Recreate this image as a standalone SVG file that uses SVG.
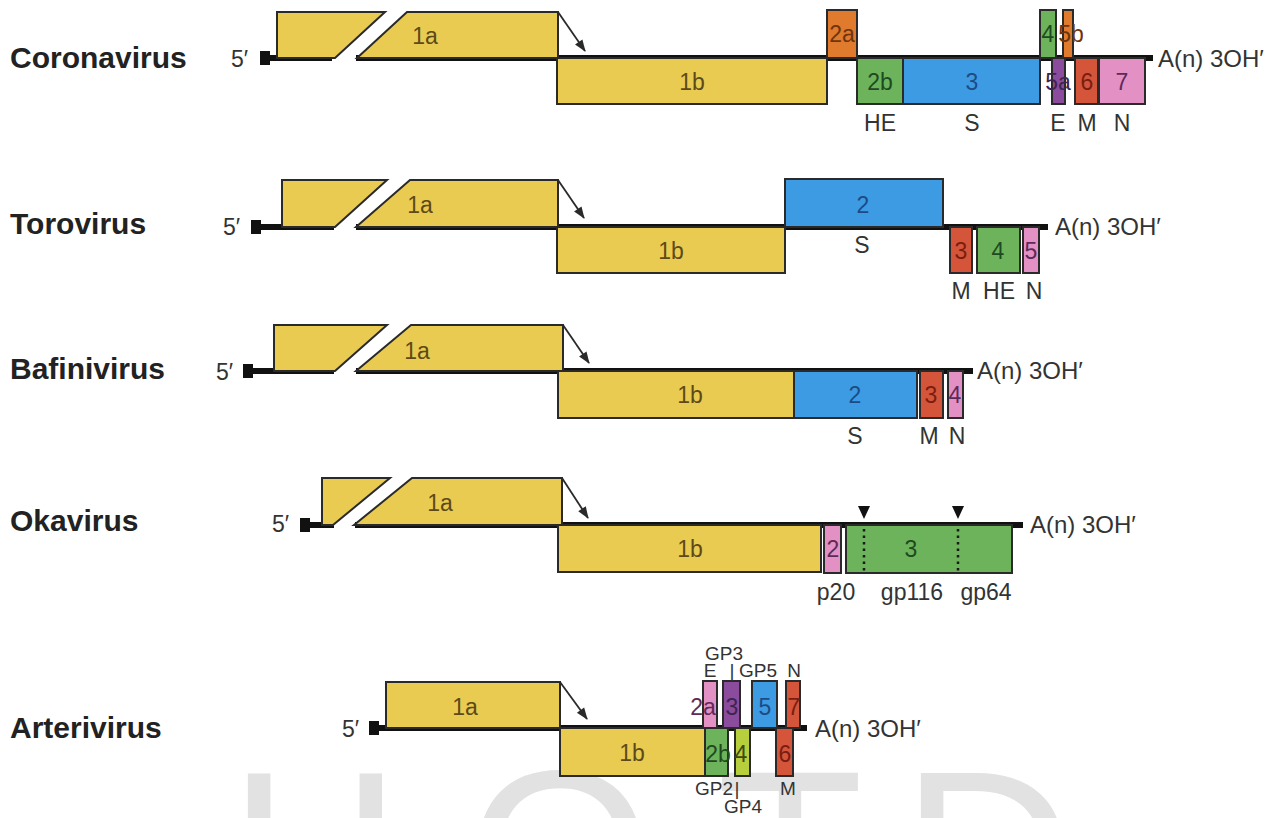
<svg xmlns="http://www.w3.org/2000/svg" width="1282" height="818" viewBox="0 0 1282 818">
<defs>
<marker id="ah" viewBox="0 0 12 10" refX="11" refY="5" markerWidth="13" markerHeight="10" orient="auto" markerUnits="userSpaceOnUse">
<path d="M0,0.5 L12,5 L0,9.5 z" fill="#2a2a2a"/>
</marker>
<style>
text{font-family:"Liberation Sans",Arial,sans-serif;font-size:23px;fill:#333}
.t{text-anchor:middle}
.nm{font-weight:bold;font-size:30px;fill:#222}
.an{font-size:24px}
.sm{font-size:19px}
.b{stroke:#2a2a2a;stroke-width:2}
.y{fill:#EACB52}.yt{fill:#5c4a18}
.or{fill:#E07A2C}.ort{fill:#6e3410}
.gr{fill:#6DB35B}.grt{fill:#1f4a20}
.bl{fill:#3D9BE3}.blt{fill:#1c4b85}
.pu{fill:#8B4C9E}.put{fill:#3e2450}
.rd{fill:#D4553A}.rdt{fill:#7a1d10}
.pk{fill:#E391C4}.pkt{fill:#5e2a5a}
.yg{fill:#B7CF3C}.ygt{fill:#3d4a10}
.ln{stroke:#111;stroke-width:6;fill:none}
.arr{stroke:#2a2a2a;stroke-width:1.8;fill:none}
.wm{fill:#e2e2e2;font-size:240px;text-anchor:middle}
</style>
</defs>
<rect width="1282" height="818" fill="#fff"/>
<g id="watermark">
<text class="wm" x="315" y="938">H</text>
<text class="wm" x="560" y="938">O</text>
<text class="wm" x="790" y="938">T</text>
<text class="wm" x="988" y="938">D</text>
</g>

<g id="genomes">
<path class="ln" d="M265 58 H332 M356 58 H1153"/>
<rect x="260" y="51" width="10" height="14" fill="#111"/>
<path class="ln" d="M257 227 H334 M356 227 H1048"/>
<rect x="251" y="220" width="10" height="14" fill="#111"/>
<path class="ln" d="M248 371 H334 M356 371 H973"/>
<rect x="243" y="364" width="10" height="14" fill="#111"/>
<path class="ln" d="M305 525 H334 M355 525 H1023"/>
<rect x="300" y="518" width="10" height="14" fill="#111"/>
<path class="ln" d="M374 728 H807"/>
<rect x="369" y="721" width="10" height="14" fill="#111"/>
</g>

<!-- Coronavirus -->
<g id="corona">
<text class="nm" x="10" y="68">Coronavirus</text>
<text x="231" y="67">5′</text>
<text class="an" x="1158" y="67">A(n) 3OH′</text>
</g>
<g id="corona-1a"><polygon class="y b" points="277,12 385,12 335,58 277,58"/><polygon class="y b" points="357,58 407,12 558,12 558,58"/><text class="t yt" x="425" y="44">1a</text></g>
<g id="corona-1b"><rect class="y b" x="557" y="58" width="270" height="46"/><text class="t yt" x="692" y="90">1b</text></g>
<g id="corona-2a"><rect class="or b" x="827" y="10" width="30" height="48"/><text class="t ort" x="842" y="42">2a</text></g>
<g id="corona-2b"><rect class="gr b" x="857" y="58" width="46" height="46"/><text class="t grt" x="880" y="90">2b</text><text class="t" x="880" y="131">HE</text></g>
<g id="corona-3"><rect class="bl b" x="903" y="58" width="137" height="46"/><text class="t blt" x="972" y="90">3</text><text class="t" x="972" y="131">S</text></g>
<g id="corona-4"><rect class="gr b" x="1040" y="10" width="16" height="48"/><text class="t grt" x="1048" y="42">4</text></g>
<g id="corona-5b"><rect class="or b" x="1063" y="10" width="10" height="48"/><text class="t ort" x="1071" y="42">5b</text></g>
<g id="corona-5a"><rect class="pu b" x="1052" y="58" width="13" height="46"/><text class="t put" x="1058" y="90">5a</text><text class="t" x="1058" y="131">E</text></g>
<g id="corona-6"><rect class="rd b" x="1075" y="58" width="23" height="46"/><text class="t rdt" x="1087" y="90">6</text><text class="t" x="1087" y="131">M</text></g>
<g id="corona-7"><rect class="pk b" x="1099" y="58" width="46" height="46"/><text class="t pkt" x="1122" y="90">7</text><text class="t" x="1122" y="131">N</text></g>

<!-- Torovirus -->
<g id="toro">
<text class="nm" x="10" y="234">Torovirus</text>
<text x="223" y="235">5′</text>
<text class="an" x="1055" y="235">A(n) 3OH′</text>
</g>
<g id="toro-1a"><polygon class="y b" points="282,180 387,180 335,227 282,227"/><polygon class="y b" points="356,227 410,180 558,180 558,227"/><text class="t yt" x="420" y="213">1a</text></g>
<g id="toro-1b"><rect class="y b" x="557" y="227" width="228" height="46"/><text class="t yt" x="671" y="259">1b</text></g>
<g id="toro-2"><rect class="bl b" x="785" y="179" width="158" height="48"/><text class="t blt" x="863" y="213">2</text><text class="t" x="862" y="253">S</text></g>
<g id="toro-3"><rect class="rd b" x="950" y="227" width="22" height="46"/><text class="t rdt" x="961" y="259">3</text><text class="t" x="961" y="299">M</text></g>
<g id="toro-4"><rect class="gr b" x="977" y="227" width="43" height="46"/><text class="t grt" x="998" y="259">4</text><text class="t" x="999" y="299">HE</text></g>
<g id="toro-5"><rect class="pk b" x="1023" y="227" width="16" height="46"/><text class="t pkt" x="1031" y="259">5</text><text class="t" x="1034" y="299">N</text></g>

<!-- Bafinivirus -->
<g id="bafini">
<text class="nm" x="10" y="379">Bafinivirus</text>
<text x="216" y="380">5′</text>
<text class="an" x="977" y="379">A(n) 3OH′</text>
</g>
<g id="bafini-1a"><polygon class="y b" points="274,325 387,325 335,371 274,371"/><polygon class="y b" points="356,371 411,325 563,325 563,371"/><text class="t yt" x="417" y="359">1a</text></g>
<g id="bafini-1b"><rect class="y b" x="558" y="371" width="236" height="47"/><text class="t yt" x="690" y="403">1b</text></g>
<g id="bafini-2"><rect class="bl b" x="794" y="371" width="123" height="47"/><text class="t blt" x="855" y="403">2</text><text class="t" x="855" y="444">S</text></g>
<g id="bafini-3"><rect class="rd b" x="920" y="371" width="23" height="47"/><text class="t rdt" x="931" y="403">3</text><text class="t" x="929" y="444">M</text></g>
<g id="bafini-4"><rect class="pk b" x="948" y="371" width="15" height="47"/><text class="t pkt" x="955" y="403">4</text><text class="t" x="957" y="444">N</text></g>

<!-- Okavirus -->
<g id="oka">
<text class="nm" x="10" y="531">Okavirus</text>
<text x="272" y="532">5′</text>
<text class="an" x="1030" y="533">A(n) 3OH′</text>
</g>
<g id="oka-1a"><polygon class="y b" points="322,478 390,478 333,525 322,525"/><polygon class="y b" points="354,525 412,478 562,478 562,525"/><text class="t yt" x="440" y="511">1a</text></g>
<g id="oka-1b"><rect class="y b" x="558" y="525" width="263" height="47"/><text class="t yt" x="690" y="557">1b</text></g>
<g id="oka-2"><rect class="pk b" x="824" y="525" width="17" height="48"/><text class="t pkt" x="833" y="557">2</text><text class="t" x="836" y="600">p20</text></g>
<g id="oka-3"><rect class="gr b" x="846" y="525" width="166" height="48"/>
<path d="M864 529 V572 M958 529 V572" stroke="#1a1a1a" stroke-width="2.5" stroke-dasharray="2.5 4"/>
<polygon points="858,506 870,506 864,519" fill="#111"/><polygon points="952,506 964,506 958,519" fill="#111"/>
<text class="t grt" x="911" y="557">3</text><text class="t" x="912" y="600">gp116</text><text class="t" x="986" y="600">gp64</text></g>

<!-- Arterivirus -->
<g id="arteri">
<text class="nm" x="10" y="738">Arterivirus</text>
<text x="342" y="737">5′</text>
<text class="an" x="815" y="737">A(n) 3OH′</text>
</g>
<g id="arteri-1a"><rect class="y b" x="386" y="682" width="174" height="46"/><text class="t yt" x="465" y="715">1a</text></g>
<g id="arteri-1b"><rect class="y b" x="560" y="728" width="145" height="48"/><text class="t yt" x="632" y="761">1b</text></g>
<g id="arteri-2a"><rect class="pk b" x="703" y="681" width="14" height="47"/><text class="t pkt" x="703" y="715">2a</text><text class="t sm" x="710" y="677">E</text></g>
<g id="arteri-3"><rect class="pu b" x="723" y="681" width="17" height="47"/><text class="t put" x="732" y="715">3</text><text class="t sm" x="724" y="660">GP3</text><text class="t sm" x="732" y="677">|</text></g>
<g id="arteri-5"><rect class="bl b" x="752" y="681" width="25" height="47"/><text class="t blt" x="765" y="715">5</text><text class="t sm" x="758" y="677">GP5</text></g>
<g id="arteri-7"><rect class="rd b" x="786" y="681" width="14" height="47"/><text class="t rdt" x="794" y="715">7</text><text class="t sm" x="794" y="677">N</text></g>
<g id="arteri-2b"><rect class="gr b" x="705" y="728" width="23" height="48"/><text class="t grt" x="718" y="762">2b</text><text class="t sm" x="714" y="795">GP2</text><text class="t sm" x="737" y="795">|</text></g>
<g id="arteri-4"><rect class="yg b" x="735" y="728" width="15" height="48"/><text class="t ygt" x="741" y="762">4</text><text class="t sm" x="743" y="813">GP4</text></g>
<g id="arteri-6"><rect class="rd b" x="776" y="728" width="17" height="48"/><text class="t rdt" x="785" y="762">6</text><text class="t sm" x="788" y="795">M</text></g>

<g id="connectors">
<line class="arr" x1="558" y1="12" x2="585" y2="51" marker-end="url(#ah)"/>
<line class="arr" x1="558" y1="180" x2="584" y2="218" marker-end="url(#ah)"/>
<line class="arr" x1="563" y1="325" x2="589" y2="363" marker-end="url(#ah)"/>
<line class="arr" x1="562" y1="478" x2="588" y2="518" marker-end="url(#ah)"/>
<line class="arr" x1="560" y1="682" x2="587" y2="719" marker-end="url(#ah)"/>
</g>
</svg>
